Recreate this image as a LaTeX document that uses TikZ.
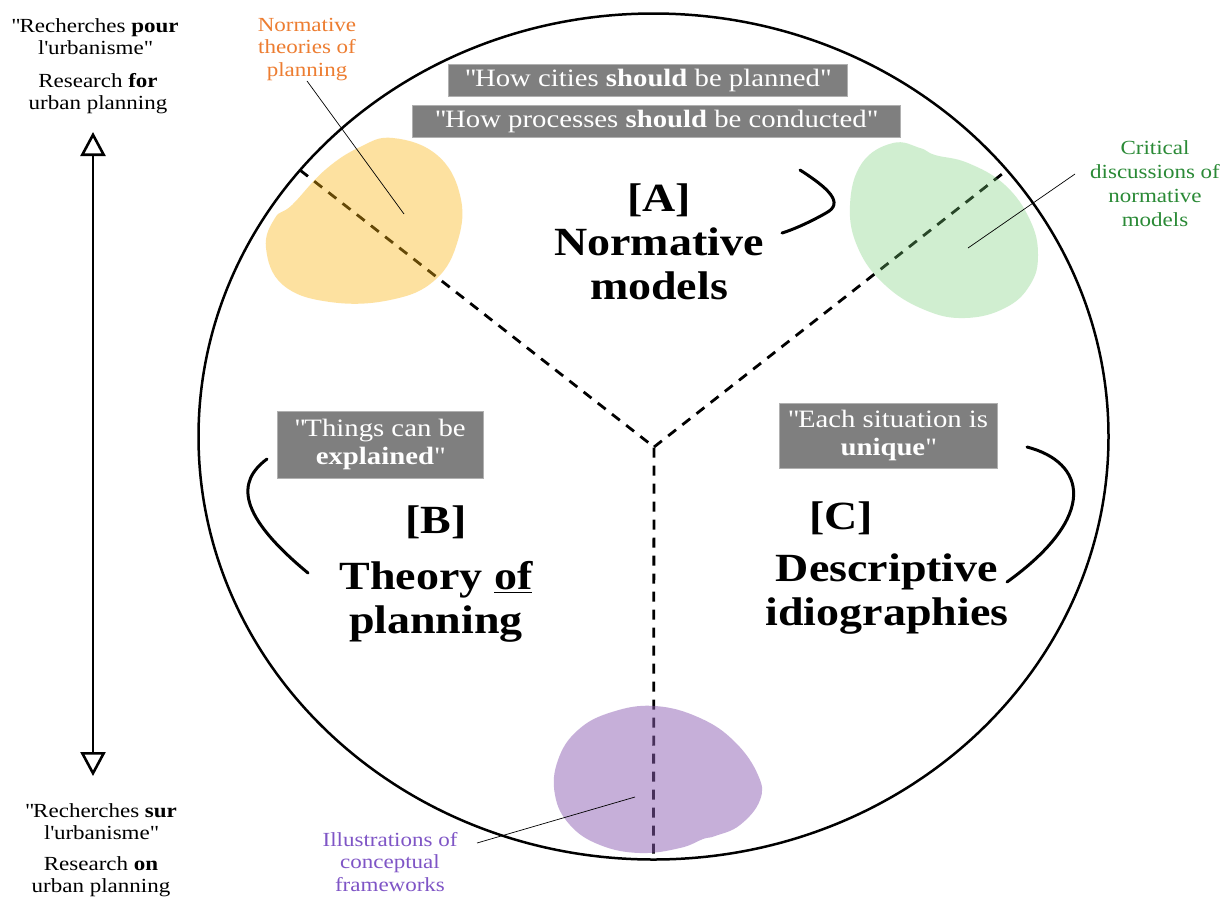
\documentclass[tikz,border=0pt]{standalone}
\usepackage{fontspec}
\setmainfont{Liberation Serif}[FakeStretch=1.15]
\usetikzlibrary{arrows.meta,shapes.geometric}
\definecolor{boxgray}{HTML}{7F7F7F}
\definecolor{boxedge}{HTML}{B0B0B0}
\definecolor{yelbase}{HTML}{FCB612}
\definecolor{grnbase}{RGB}{119,208,119}
\definecolor{purbase}{RGB}{143,97,181}
\definecolor{orangetxt}{HTML}{ED7D31}
\definecolor{greentxt}{HTML}{2A8A36}
\definecolor{purpletxt}{HTML}{7F55C6}
\newcommand{\qd}{\textquotedbl}
\begin{document}
\begin{tikzpicture}[x=1pt,y=-1pt,
  graybox/.style={fill=boxgray, draw=boxedge, line width=0.8pt, text=white,
    font=\fontsize{25}{28}\selectfont, inner sep=0pt, align=center, minimum height=32pt},
  titletext/.style={font=\bfseries\fontsize{40}{44}\selectfont, align=center, inner sep=0pt},
  sidetext/.style={font=\fontsize{20}{22.5}\selectfont, align=center, inner sep=0pt},
  dashline/.style={line width=2.8pt, dash pattern=on 10pt off 8pt},
  leader/.style={line width=0.7pt},
  bracket/.style={line width=3pt, line cap=round},
  blobY/.style={fill=yelbase, fill opacity=0.4},
  blobG/.style={fill=grnbase, fill opacity=0.34},
  blobP/.style={fill=purbase, fill opacity=0.5}
]
\fill[white] (0,0) rectangle (1230,903);
\useasboundingbox (0,0) rectangle (1230,903);

% main ellipse
\node[ellipse, draw, line width=2.5pt, inner sep=0pt, outer sep=0pt,
  minimum width=910pt, minimum height=846pt] (ring) at (653.5,436.5) {};

% dashed dividers
\coordinate (J) at (654,447);
\draw[dashline] (ring.143) -- (J) -- (ring.270);
\draw[dashline] (J) -- (ring.37);

% blobs
\fill[blobY] plot[smooth cycle, tension=0.7] coordinates {
  (393,138) (437,155) (460,195) (458,240) (435,280) (390,300) (330,302)
  (283,285) (266,248) (275,218) (292,205) (325,170) (360,147)};
\fill[blobG] plot[smooth cycle, tension=0.7] coordinates {
  (893,143) (920,148) (935,155) (968,163) (1005,185) (1030,220) (1038,255)
  (1030,285) (1005,308) (965,318) (925,310) (885,285) (858,248) (850,205) (862,163)};
\fill[blobP] plot[smooth cycle, tension=0.7] coordinates {
  (655,706) (700,718) (735,742) (758,775) (760,800) (740,825) (715,836)
  (703,839) (680,848) (640,853) (600,845) (570,825) (555,795) (558,760)
  (578,730) (612,712)};

% quote boxes
\node[graybox, minimum width=399pt] (q1) at (647.5,80) {\qd How cities \textbf{should} be planned\qd};
\node[graybox, minimum width=488pt] (q2) at (656,121) {\qd How processes \textbf{should} be conducted\qd};
\node[graybox, minimum width=206pt, minimum height=67pt] (q3) at (380,444.5) {\qd Things can be\\\textbf{explained}\qd};
\node[graybox, minimum width=218pt, minimum height=65pt] (q4) at (888,435.5) {\qd Each situation is\\\textbf{unique}\qd};

% titles
\node[titletext, anchor=north] (tA) at (659,184) {[A]\\Normative\\models};
\node[titletext, anchor=north] (tB) at (436,506) {[B]\\[12pt]Theory \underline{of}\\planning};
\node[titletext, anchor=north] (tC) at (887,502) {\hspace*{-92pt}[C]\\[8pt]Descriptive\\idiographies};

% brackets
\coordinate (bA1) at (800,170); \coordinate (bA2) at (782,233);
\draw[bracket] (bA1) .. controls (828,188) and (845,203) .. (826,213) .. controls (812,221) and (795,229) .. (bA2);
\coordinate (bB1) at (267,459); \coordinate (bB2) at (308,573);
\draw[bracket] (bB1) .. controls (236,482) and (238,515) .. (bB2);
\coordinate (bC1) at (1027,447); \coordinate (bC2) at (1007,582);
\draw[bracket] (bC1) .. controls (1085,462) and (1100,515) .. (bC2);

% side labels
\node[sidetext, anchor=north] (pourFr) at (95,18) {\qd Recherches \textbf{pour}\\l\textquotesingle urbanisme\qd};
\node[sidetext, anchor=north] (pourEn) at (98,73) {Research \textbf{for}\\urban planning};
\node[sidetext, anchor=north] (surFr) at (101,803) {\qd Recherches \textbf{sur}\\l\textquotesingle urbanisme\qd};
\node[sidetext, anchor=north] (surEn) at (101,856) {Research \textbf{on}\\urban planning};

% vertical arrow
\coordinate (arTop) at (93,132);
\coordinate (arBot) at (93,776);
\draw[line width=2.6pt, {Triangle[open,length=24pt,width=25pt]}-{Triangle[open,length=24pt,width=25pt]}] (arTop) -- (arBot);

% blob labels
\node[sidetext, text=orangetxt, anchor=north] (lNT) at (307,18) {Normative\\theories of\\planning};
\node[sidetext, text=greentxt, font=\fontsize{20}{24}\selectfont, anchor=north] (lCD) at (1155,140) {Critical\\discussions of\\normative\\models};
\node[sidetext, text=purpletxt, anchor=north] (lIC) at (390,832) {Illustrations of\\conceptual\\frameworks};

% leaders
\coordinate (ntIn) at (404,214);
\coordinate (cdOut) at (1075,174);
\coordinate (cdIn) at (968,248);
\coordinate (icOut) at (477,843);
\coordinate (icIn) at (635,797);
\draw[leader] (lNT.south) -- (ntIn);
\draw[leader] (cdOut) -- (cdIn);
\draw[leader] (icOut) -- (icIn);
\end{tikzpicture}
\end{document}
